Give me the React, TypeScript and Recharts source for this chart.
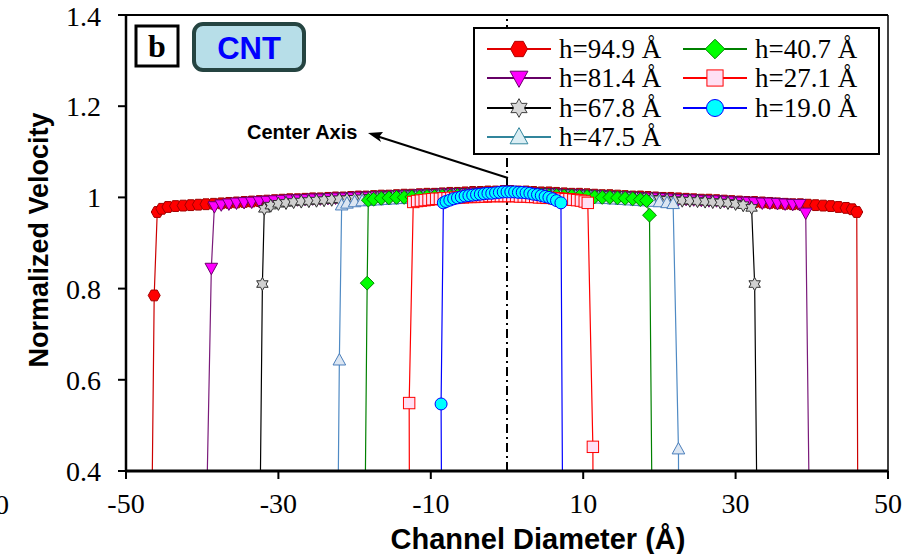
import React from "react";
import { LineChart, Line, XAxis, YAxis, ReferenceLine, Legend } from "recharts";

type Pt = [number, number];

const X_TICKS = [-50, -30, -10, 10, 30, 50];
const Y_TICKS = [0.4, 0.6, 0.8, 1, 1.2, 1.4];

// [channel position (Å), normalized velocity]
const h949: Pt[] = [
  [-46.8, 0], [-46.3, 0.785], [-45.9, 0.968], [-45.3, 0.975],
  [-44.5, 0.979], [-43.5, 0.981], [-42.5, 0.982], [-41.5, 0.983], [-40.5, 0.984], [-39.5, 0.985],
  [-38.5, 0.986], [-37.5, 0.987], [-36.5, 0.988], [-35.5, 0.989], [-34.5, 0.99], [-33.5, 0.991],
  [-32.5, 0.992], [-31.5, 0.993], [-30.5, 0.994], [-29.5, 0.995], [-28.5, 0.996], [-27.5, 0.996],
  [-26.5, 0.997], [-25.5, 0.998], [-24.5, 0.998], [-23.5, 0.999], [-22.5, 1.0], [-21.5, 1.0],
  [-20.5, 1.001], [-19.5, 1.002], [-18.5, 1.002], [-17.5, 1.003], [-16.5, 1.004], [-15.5, 1.004],
  [-14.5, 1.005], [-13.5, 1.006], [-12.5, 1.006], [-11.5, 1.007], [-10.5, 1.008], [-9.5, 1.008],
  [-8.5, 1.009], [-7.5, 1.01], [-6.5, 1.01], [-5.5, 1.011], [-4.5, 1.012], [-3.5, 1.012],
  [-2.5, 1.013], [-1.5, 1.013], [-0.5, 1.014], [0.5, 1.014], [1.5, 1.013], [2.5, 1.013],
  [3.5, 1.012], [4.5, 1.011], [5.5, 1.011], [6.5, 1.01], [7.5, 1.009], [8.5, 1.008],
  [9.5, 1.008], [10.5, 1.007], [11.5, 1.006], [12.5, 1.005], [13.5, 1.005], [14.5, 1.004],
  [15.5, 1.003], [16.5, 1.002], [17.5, 1.002], [18.5, 1.001], [19.5, 1.0], [20.5, 0.999],
  [21.5, 0.999], [22.5, 0.998], [23.5, 0.997], [24.5, 0.996], [25.5, 0.995], [26.5, 0.995],
  [27.5, 0.994], [28.5, 0.993], [29.5, 0.992], [30.5, 0.991], [31.5, 0.99], [32.5, 0.99],
  [33.5, 0.989], [34.5, 0.988], [35.5, 0.987], [36.5, 0.986], [37.5, 0.985], [38.5, 0.985],
  [39.5, 0.984], [40.5, 0.983], [41.5, 0.982], [42.5, 0.981], [43.5, 0.979], [44.5, 0.977],
  [45.3, 0.974], [45.9, 0.968], [46.1, 0],
];

const h814: Pt[] = [
  [-39.8, 0], [-38.8, 0.845], [-38.4, 0.98],
  [-37.5, 0.984], [-36.5, 0.986], [-35.5, 0.988], [-34.5, 0.989], [-33.5, 0.99], [-32.5, 0.991],
  [-31.5, 0.992], [-30.5, 0.993], [-29.5, 0.994], [-28.5, 0.995], [-27.5, 0.995], [-26.5, 0.996],
  [-25.5, 0.997], [-24.5, 0.997], [-23.5, 0.998], [-22.5, 0.999], [-21.5, 0.999], [-20.5, 1.0],
  [-19.5, 1.001], [-18.5, 1.001], [-17.5, 1.002], [-16.5, 1.003], [-15.5, 1.003], [-14.5, 1.004],
  [-13.5, 1.005], [-12.5, 1.005], [-11.5, 1.006], [-10.5, 1.006], [-9.5, 1.007], [-8.5, 1.008],
  [-7.5, 1.008], [-6.5, 1.009], [-5.5, 1.009], [-4.5, 1.01], [-3.5, 1.01], [-2.5, 1.011],
  [-1.5, 1.011], [-0.5, 1.011], [0.5, 1.011], [1.5, 1.011], [2.5, 1.01], [3.5, 1.01],
  [4.5, 1.009], [5.5, 1.009], [6.5, 1.008], [7.5, 1.007], [8.5, 1.007], [9.5, 1.006],
  [10.5, 1.005], [11.5, 1.005], [12.5, 1.004], [13.5, 1.003], [14.5, 1.002], [15.5, 1.002],
  [16.5, 1.001], [17.5, 1.0], [18.5, 0.999], [19.5, 0.999], [20.5, 0.998], [21.5, 0.997],
  [22.5, 0.996], [23.5, 0.996], [24.5, 0.995], [25.5, 0.994], [26.5, 0.993], [27.5, 0.993],
  [28.5, 0.992], [29.5, 0.991], [30.5, 0.99], [31.5, 0.99], [32.5, 0.989], [33.5, 0.988],
  [34.5, 0.988], [35.5, 0.987], [36.5, 0.986], [37.5, 0.985], [38.4, 0.985], [39.2, 0.966],
  [39.9, 0],
];

const h678: Pt[] = [
  [-32.6, 0], [-32.1, 0.81], [-31.85, 0.975],
  [-31, 0.982], [-30, 0.986], [-29, 0.988], [-28, 0.99], [-27, 0.991], [-26, 0.992],
  [-25, 0.993], [-24, 0.994], [-23, 0.995], [-22, 0.996], [-21, 0.996], [-20, 0.997],
  [-19, 0.998], [-18, 0.999], [-17, 0.999], [-16, 1.0], [-15, 1.001], [-14, 1.001],
  [-13, 1.002], [-12, 1.003], [-11, 1.003], [-10, 1.004], [-9, 1.005], [-8, 1.005],
  [-7, 1.006], [-6, 1.006], [-5, 1.007], [-4, 1.007], [-3, 1.008], [-2, 1.008],
  [-1, 1.008], [0, 1.009], [1, 1.008], [2, 1.008], [3, 1.008], [4, 1.007],
  [5, 1.007], [6, 1.006], [7, 1.005], [8, 1.005], [9, 1.004], [10, 1.003],
  [11, 1.003], [12, 1.002], [13, 1.001], [14, 1.0], [15, 1.0], [16, 0.999],
  [17, 0.998], [18, 0.997], [19, 0.997], [20, 0.996], [21, 0.995], [22, 0.994],
  [23, 0.993], [24, 0.993], [25, 0.992], [26, 0.991], [27, 0.99], [28, 0.989],
  [29, 0.988], [30, 0.986], [31, 0.983], [32.1, 0.977], [32.5, 0.81], [33.0, 0],
];

const h475: Pt[] = [
  [-22.35, 0], [-22.0, 0.643], [-21.7, 0.983],
  [-21, 0.987], [-20, 0.99], [-19, 0.992], [-18, 0.993], [-17, 0.994], [-16, 0.995],
  [-15, 0.996], [-14, 0.997], [-13, 0.998], [-12, 0.999], [-11, 0.999], [-10, 1.0],
  [-9, 1.001], [-8, 1.002], [-7, 1.002], [-6, 1.003], [-5, 1.003], [-4, 1.004],
  [-3, 1.004], [-2, 1.005], [-1, 1.005], [0, 1.005], [1, 1.005], [2, 1.005],
  [3, 1.004], [4, 1.004], [5, 1.003], [6, 1.003], [7, 1.002], [8, 1.001],
  [9, 1.001], [10, 1.0], [11, 0.999], [12, 0.998], [13, 0.997], [14, 0.996],
  [15, 0.995], [16, 0.994], [17, 0.993], [18, 0.992], [19, 0.991], [20, 0.99],
  [21, 0.988], [21.8, 0.986], [22.5, 0.448], [22.6, 0],
];

const h407: Pt[] = [
  [-18.8, 0], [-18.35, 0.812], [-18.2, 0.994],
  [-17.5, 0.996], [-16.5, 0.998], [-15.5, 0.999], [-14.5, 1.0], [-13.5, 1.0], [-12.5, 1.001],
  [-11.5, 1.001], [-10.5, 1.002], [-9.5, 1.002], [-8.5, 1.003], [-7.5, 1.003], [-6.5, 1.004],
  [-5.5, 1.004], [-4.5, 1.005], [-3.5, 1.005], [-2.5, 1.005], [-1.5, 1.006], [-0.5, 1.006],
  [0.5, 1.006], [1.5, 1.006], [2.5, 1.005], [3.5, 1.005], [4.5, 1.005], [5.5, 1.004],
  [6.5, 1.004], [7.5, 1.003], [8.5, 1.003], [9.5, 1.002], [10.5, 1.002], [11.5, 1.001],
  [12.5, 1.0], [13.5, 1.0], [14.5, 0.999], [15.5, 0.998], [16.5, 0.997], [17.5, 0.995],
  [18.3, 0.993], [18.7, 0.961], [19.2, 0],
];

const h271: Pt[] = [
  [-12.75, 0], [-12.84, 0.549], [-12.3, 0.99],
  [-11.8, 0.992], [-11.3, 0.993], [-10.8, 0.994], [-10.3, 0.995], [-9.8, 0.996], [-9.3, 0.997],
  [-8.8, 0.997], [-8.3, 0.998], [-7.8, 0.998], [-7.3, 0.999], [-6.8, 0.999], [-6.3, 1.0],
  [-5.8, 1.0], [-5.3, 1.001], [-4.8, 1.001], [-4.3, 1.001], [-3.8, 1.002], [-3.3, 1.002],
  [-2.8, 1.002], [-2.3, 1.003], [-1.8, 1.003], [-1.3, 1.003], [-0.8, 1.003], [-0.3, 1.003],
  [0.2, 1.003], [0.7, 1.003], [1.2, 1.003], [1.7, 1.002], [2.2, 1.002], [2.7, 1.002],
  [3.2, 1.001], [3.7, 1.001], [4.2, 1.0], [4.7, 1.0], [5.2, 0.999], [5.7, 0.999],
  [6.2, 0.998], [6.7, 0.998], [7.2, 0.997], [7.7, 0.996], [8.2, 0.996], [8.7, 0.995],
  [9.2, 0.994], [9.7, 0.993], [10.2, 0.991], [10.6, 0.988], [11.27, 0.453], [11.35, 0],
];

const h190: Pt[] = [
  [-8.5, 0], [-8.65, 0.547], [-8.35, 0.988],
  [-8.0, 0.991], [-7.5, 0.994], [-7.0, 0.997], [-6.5, 0.999], [-6.0, 1.001], [-5.5, 1.003],
  [-5.0, 1.004], [-4.5, 1.005], [-4.0, 1.006], [-3.5, 1.007], [-3.0, 1.008], [-2.5, 1.009],
  [-2.0, 1.009], [-1.5, 1.01], [-1.0, 1.011], [-0.5, 1.012], [0, 1.012], [0.5, 1.012],
  [1.0, 1.012], [1.5, 1.011], [2.0, 1.011], [2.5, 1.01], [3.0, 1.009], [3.5, 1.007],
  [4.0, 1.006], [4.5, 1.004], [5.0, 1.002], [5.5, 1.0], [6.0, 0.997], [6.5, 0.993],
  [7.08, 0.988], [7.4, 0],
];

type Shape = "hexagon" | "triangleDown" | "star" | "triangle" | "diamond" | "square" | "circle";

interface Series {
  name: string;
  data: Pt[];
  line: string;
  fill: string;
  stroke: string;
  shape: Shape;
  legendLine: string;
  legendStroke: string;
  legendFill: string;
}

const SERIES: Series[] = [
  { name: "h=94.9 Å", data: h949, line: "#cc0000", fill: "#ff0000", stroke: "#a00000", shape: "hexagon", legendLine: "#e00000", legendStroke: "#b00000", legendFill: "#ff0000" },
  { name: "h=81.4 Å", data: h814, line: "#7a1a7a", fill: "#ff00ff", stroke: "#6a006a", shape: "triangleDown", legendLine: "#660066", legendStroke: "#660066", legendFill: "#ff00ff" },
  { name: "h=67.8 Å", data: h678, line: "#000000", fill: "#d0d0d0", stroke: "#303030", shape: "star", legendLine: "#000000", legendStroke: "#404040", legendFill: "#d9d9d9" },
  { name: "h=47.5 Å", data: h475, line: "#4f8ac4", fill: "#dce6f2", stroke: "#4a7ebb", shape: "triangle", legendLine: "#31859c", legendStroke: "#31859c", legendFill: "#dbeef4" },
  { name: "h=40.7 Å", data: h407, line: "#008000", fill: "#00ff00", stroke: "#008000", shape: "diamond", legendLine: "#008000", legendStroke: "#008000", legendFill: "#00ff00" },
  { name: "h=27.1 Å", data: h271, line: "#ff0000", fill: "#ffe0f4", stroke: "#ff0000", shape: "square", legendLine: "#ff0000", legendStroke: "#ff0000", legendFill: "#ffe0f4" },
  { name: "h=19.0 Å", data: h190, line: "#0000ff", fill: "#00ffff", stroke: "#0000ff", shape: "circle", legendLine: "#0000ff", legendStroke: "#0000ff", legendFill: "#00ffff" },
];

const LEGEND_ROWS = [20, 49, 79, 108];

function pts(list: number[][]) {
  return list.map((p) => p.join(",")).join(" ");
}

function Marker({ shape, cx, cy, fill, stroke, r = 6 }: { shape: Shape; cx: number; cy: number; fill: string; stroke: string; r?: number }) {
  const common = { fill, stroke, strokeWidth: 1 };
  switch (shape) {
    case "hexagon":
      return <polygon {...common} points={pts([[cx - r, cy], [cx - r / 2, cy - r * 0.9], [cx + r / 2, cy - r * 0.9], [cx + r, cy], [cx + r / 2, cy + r * 0.9], [cx - r / 2, cy + r * 0.9]])} />;
    case "triangleDown":
      return <polygon {...common} points={pts([[cx - r * 1.05, cy - r * 0.8], [cx + r * 1.05, cy - r * 0.8], [cx, cy + r * 1.1]])} />;
    case "triangle":
      return <polygon {...common} points={pts([[cx, cy - r * 1.1], [cx + r * 1.05, cy + r * 0.8], [cx - r * 1.05, cy + r * 0.8]])} />;
    case "diamond":
      return <polygon {...common} points={pts([[cx, cy - r * 1.15], [cx + r * 1.15, cy], [cx, cy + r * 1.15], [cx - r * 1.15, cy]])} />;
    case "square":
      return <rect {...common} x={cx - r * 0.95} y={cy - r * 0.95} width={r * 1.9} height={r * 1.9} />;
    case "circle":
      return <circle {...common} cx={cx} cy={cy} r={r} />;
    case "star": {
      const corners: number[][] = [];
      for (let k = 0; k < 12; k++) {
        const a = -Math.PI / 2 + (k * Math.PI) / 6;
        const rr = k % 2 === 0 ? r * 1.1 : r * 0.62;
        corners.push([cx + rr * Math.cos(a), cy + rr * Math.sin(a)]);
      }
      return <polygon {...common} points={pts(corners)} />;
    }
  }
}

function ChartLegend() {
  return (
    <div
      style={{
        position: "relative",
        width: 407,
        height: 128,
        border: "2px solid #000",
        background: "#fff",
        boxSizing: "border-box",
      }}
    >
      {SERIES.map((s, i) => {
        const col = i < 4 ? 0 : 1;
        const row = i < 4 ? i : i - 4;
        return (
          <div
            key={s.name}
            style={{
              position: "absolute",
              left: col ? 208 : 12,
              top: LEGEND_ROWS[row] - 16,
              height: 32,
              display: "flex",
              alignItems: "center",
            }}
          >
            <svg width={64} height={24}>
              <line x1={0} y1={12} x2={64} y2={12} stroke={s.legendLine} strokeWidth={2} />
              <Marker shape={s.shape} cx={32} cy={12} r={8.5} fill={s.legendFill} stroke={s.legendStroke} />
            </svg>
            <span
              style={{
                marginLeft: 8,
                fontFamily: "Liberation Serif",
                fontSize: 27,
                lineHeight: "32px",
                whiteSpace: "nowrap",
                color: "#000",
              }}
            >
              {s.name}
            </span>
          </div>
        );
      })}
    </div>
  );
}

export default function App() {
  return (
    <div style={{ position: "absolute", left: 0, top: 0, width: 922, height: 554, background: "#fff", overflow: "hidden" }}>
      <LineChart width={922} height={554} margin={{ top: 15, right: 34, bottom: 0, left: 0 }}>
        <XAxis
          type="number"
          dataKey="x"
          domain={[-50, 50]}
          ticks={X_TICKS}
          allowDataOverflow
          height={83}
          tickSize={8}
          tickMargin={14}
          axisLine={{ stroke: "#000", strokeWidth: 3 }}
          tickLine={{ stroke: "#000", strokeWidth: 2 }}
          tick={{ fill: "#000", fontSize: 28, fontFamily: "Liberation Serif" }}
          label={{
            value: "Channel Diameter (Å)",
            position: "insideBottom",
            offset: 5,
            dx: 31,
            fill: "#000",
            fontSize: 29,
            fontWeight: "bold",
            fontFamily: "Liberation Sans",
          }}
        />
        <YAxis
          type="number"
          domain={[0.4, 1.4]}
          ticks={Y_TICKS}
          allowDataOverflow
          width={126}
          tickSize={8}
          tickMargin={17}
          tickFormatter={(v: number) => String(v)}
          axisLine={{ stroke: "#000", strokeWidth: 2.5 }}
          tickLine={{ stroke: "#000", strokeWidth: 2 }}
          tick={{ fill: "#000", fontSize: 28, fontFamily: "Liberation Serif" }}
          label={{
            value: "Normalized Velocity",
            angle: -90,
            position: "insideLeft",
            offset: 38,
            dy: -3,
            textAnchor: "middle",
            fill: "#000",
            fontSize: 27,
            fontWeight: "bold",
            fontFamily: "Liberation Sans",
          }}
        />
        <ReferenceLine y={1.4} stroke="#000" strokeWidth={2} />
        <ReferenceLine x={50} stroke="#000" strokeWidth={1.5} />
        <ReferenceLine x={0} stroke="#000" strokeWidth={2} strokeDasharray="9 4 2 4" />
        {SERIES.map((s) => (
          <Line
            key={s.name}
            name={s.name}
            data={s.data.map(([x, v]) => ({ x, v }))}
            dataKey="v"
            type="linear"
            stroke={s.line}
            strokeWidth={1.2}
            isAnimationActive={false}
            activeDot={false}
            dot={(p: any) =>
              p.cx == null || p.cy == null ? (
                <g key={p.index} />
              ) : (
                <Marker key={p.index} shape={s.shape} cx={p.cx} cy={p.cy} fill={s.fill} stroke={s.stroke} />
              )
            }
          />
        ))}
        <Legend
          layout="horizontal"
          verticalAlign="middle"
          align="center"
          content={() => <ChartLegend />}
          wrapperStyle={{ left: 473, top: 27, width: 407, height: 128 }}
        />
      </LineChart>

      <svg width={922} height={554} style={{ position: "absolute", left: 0, top: 0, pointerEvents: "none" }}>
        <rect x={136} y={26} width={42} height={40} fill="#fff" stroke="#000" strokeWidth={3} />
        <text x={157} y={57} textAnchor="middle" fontFamily="Liberation Serif" fontWeight="bold" fontSize={32} fill="#000">
          b
        </text>
        <rect x={194} y={24} width={110} height={46} rx={9} fill="#b7dee8" stroke="#254441" strokeWidth={4} />
        <text x={249} y={59} textAnchor="middle" fontFamily="Liberation Sans" fontWeight="bold" fontSize={31} fill="#0000ff">
          CNT
        </text>
        <text x={247} y={139} fontFamily="Liberation Sans" fontWeight="bold" fontSize={20} fill="#000">
          Center Axis
        </text>
        <line x1={508} y1={178} x2={378} y2={136.5} stroke="#000" strokeWidth={2} />
        <polygon points="368,133 383,132 379,137 381,142" fill="#000" />
        <text x={2} y={514} textAnchor="middle" fontFamily="Liberation Serif" fontSize={28} fill="#000">
          0
        </text>
      </svg>
    </div>
  );
}
